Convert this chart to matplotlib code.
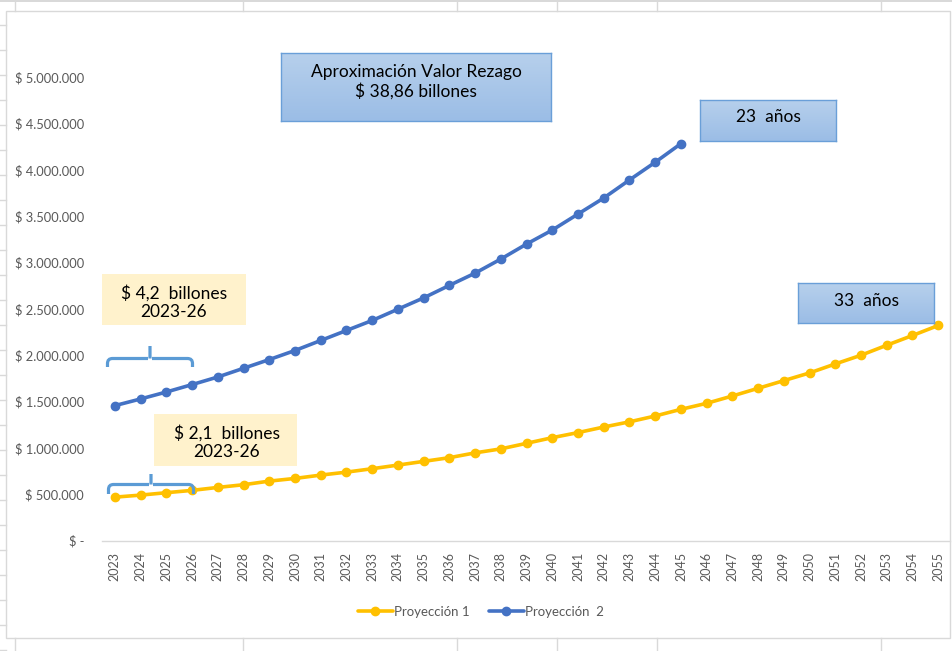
import numpy as np
import matplotlib
matplotlib.use("Agg")
import matplotlib.pyplot as plt
from matplotlib.patches import Rectangle, PathPatch
from matplotlib.path import Path
from matplotlib.lines import Line2D
from matplotlib.colors import LinearSegmentedColormap

plt.rcParams['font.family'] = ['Lato', 'DejaVu Sans']

# ---------- data ----------
years = list(range(2023, 2056))
proy1 = [468, 490, 516, 541, 573, 602, 641, 670, 706, 738, 775, 814, 854, 894,
         946, 989, 1049, 1110, 1165, 1225, 1281, 1344, 1416, 1481, 1560, 1643,
         1726, 1809, 1906, 2000, 2108, 2213, 2321]
years2 = list(range(2023, 2046))
proy2 = [1456, 1528, 1603, 1683, 1765, 1859, 1953, 2051, 2159, 2267, 2375, 2497,
         2619, 2754, 2886, 3038, 3200, 3351, 3524, 3697, 3892, 4083, 4284]
proy1 = [v * 1000 for v in proy1]
proy2 = [v * 1000 for v in proy2]
y_ticks = [0, 500000, 1000000, 1500000, 2000000, 2500000, 3000000,
           3500000, 4000000, 4500000, 5000000]
series_names = ["Proyección 1", "Proyección  2"]

W, H = 952, 651
YELLOW = "#ffc000"
BLUE = "#4472c4"
GRID = "#d9d9d9"
TXT = "#595959"


def fx(x):
    return x / W


def fy(y):
    return 1 - y / H


fig = plt.figure(figsize=(W / 100, H / 100), dpi=100)

#----------spreadsheet background----------
def seg(x0, y0, x1, y1, c=GRID, lw=1.0):
    fig.add_artist(Line2D([fx(x0), fx(x1)], [fy(y0), fy(y1)], color=c, lw=lw,
                          transform=fig.transFigure))

fig.add_artist(Rectangle((0, fy(2)), 1, 2 / H, transform=fig.transFigure,
                         color=GRID, lw=0))
for xc in [15, 243, 456.5, 556.5, 657, 880.5]:
    seg(xc, 2, xc, 11)
    seg(xc, 638, xc, 651)
for yr in range(25, 651, 25):
    seg(0, yr, 6, yr)
# chart border
fig.add_artist(Rectangle((fx(6), fy(637.5)), fx(950) - fx(6), (637.5 - 10.7) / H,
                         transform=fig.transFigure, fill=False, ec=GRID, lw=1.0))

#----------plot----------
ax = fig.add_axes([fx(102), fy(540.5), fx(950) - fx(102), (540.5 - 31) / H])
ax.set_xlim(2022.5, 2022.5 + 848 / 25.73)
ax.set_ylim(0, 5500000)

ax.plot(years, proy1, color=YELLOW, lw=2.6, marker="o", ms=6,
        label=series_names[0], solid_capstyle="round")
ax.plot(years2, proy2, color=BLUE, lw=2.6, marker="o", ms=6,
        label=series_names[1], solid_capstyle="round")

for s in ["top", "right", "left"]:
    ax.spines[s].set_visible(False)
ax.spines["bottom"].set_color(GRID)
ax.spines["bottom"].set_linewidth(1.0)

ax.set_xticks(years)
ax.set_xticklabels([str(y) for y in years], rotation=90, fontsize=9, color=TXT)
ax.set_yticks(y_ticks)


def fmt(v):
    if v == 0:
        return "$ -"
    return "$ " + f"{v:,.0f}".replace(",", ".")


ax.set_yticklabels([fmt(v) for v in y_ticks], fontsize=9.3, color=TXT)
ax.tick_params(axis="x", length=0, pad=8)
ax.tick_params(axis="y", length=0, pad=13)

leg = fig.legend(loc="center", bbox_to_anchor=(fx(481), fy(612)), ncol=2,
                 frameon=False, fontsize=9.5, handlelength=2.6,
                 handletextpad=0.1, columnspacing=1.5, labelcolor=TXT)

#----------annotation boxes----------
blue_cmap = LinearSegmentedColormap.from_list("bx", ["#b7d0ec", "#9bbde6"])


def blue_box(x0, y0, x1, y1, text, ty, size):
    bax = fig.add_axes([fx(x0), fy(y1), fx(x1) - fx(x0), (y1 - y0) / H])
    bax.imshow(np.linspace(0, 1, 50).reshape(-1, 1), aspect="auto",
               cmap=blue_cmap, extent=[0, 1, 0, 1], origin="upper")
    bax.set_xticks([])
    bax.set_yticks([])
    for sp in bax.spines.values():
        sp.set_color("#6a9fd8")
        sp.set_linewidth(1.0)
    fig.text(fx((x0 + x1) / 2), fy(ty), text, ha="center", va="center",
             fontsize=size, color="black", linespacing=1.2)


def yellow_box(x0, y0, x1, y1, text, tx, ty):
    fig.add_artist(Rectangle((fx(x0), fy(y1)), fx(x1) - fx(x0), (y1 - y0) / H,
                             transform=fig.transFigure, color="#fff2cc", lw=0))
    fig.text(fx(tx), fy(ty), text, ha="center", va="center", fontsize=12.5,
             color="black", linespacing=1.2)


def brace(x0, x1, ybar, yend, ytop):
    xm = (x0 + x1) / 2
    r = 5
    verts = [(x0, yend), (x0, ybar + r), (x0, ybar), (x0 + r, ybar),
             (xm - 2, ybar), (xm, ybar), (xm, ytop)]
    codes = [Path.MOVETO, Path.LINETO, Path.CURVE3, Path.CURVE3,
             Path.LINETO, Path.MOVETO, Path.LINETO]
    verts2 = [(x1, yend), (x1, ybar + r), (x1, ybar), (x1 - r, ybar),
              (xm + 2, ybar)]
    codes2 = [Path.MOVETO, Path.LINETO, Path.CURVE3, Path.CURVE3, Path.LINETO]
    for v, c in [(verts, codes), (verts2, codes2)]:
        v = [(fx(a), fy(b)) for a, b in v]
        fig.add_artist(PathPatch(Path(v, c), transform=fig.transFigure,
                                 fill=False, ec="#5b9bd5", lw=2.3))


blue_box(281, 52.5, 551, 121, "Aproximación Valor Rezago\n$ 38,86 billones", 82, 12.5)
blue_box(700, 99.5, 836, 141, "23  años", 116.5, 12.5)
blue_box(798, 283.5, 934, 323.5, "33  años", 301, 12.5)

yellow_box(102, 273.5, 246, 325, "$ 4,2  billones\n2023-26", 174, 302)
yellow_box(153.5, 413.5, 297, 466, "$ 2,1  billones\n2023-26", 227, 442)

brace(107.5, 192.5, 358.5, 367, 346)
brace(108.5, 193.5, 484.5, 494, 474)

fig.savefig("out.png", dpi=100)
